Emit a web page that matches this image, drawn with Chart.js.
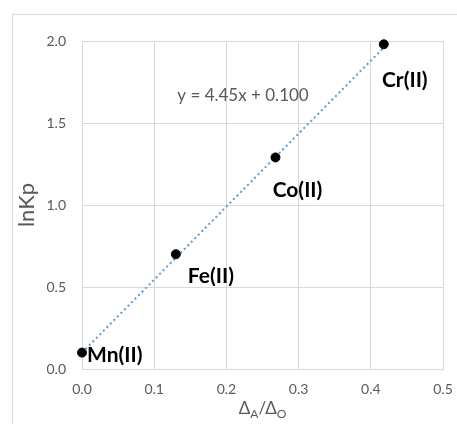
<!DOCTYPE html>
<html>
<head>
<meta charset="utf-8">
<script src="https://cdn.jsdelivr.net/npm/chart.js@4.4.1/dist/chart.umd.min.js"></script>
<style>
  html, body { margin: 0; padding: 0; background: #fff; }
  #wrap { width: 457px; height: 424px; }
</style>
</head>
<body>
<div id="wrap"><canvas id="scatter-chart"></canvas></div>
<script>
// data
var ionNames = ["Mn(II)", "Fe(II)", "Co(II)", "Cr(II)"];
var ratioX = [0.0, 0.13, 0.268, 0.418];
var lnKp = [0.10, 0.70, 1.29, 1.98];

// linear trendline as printed on the chart
var trendSlope = 4.45;
var trendIntercept = 0.100;
var trendRange = [0.0, 0.42];

var xTicks = [0, 0.1, 0.2, 0.3, 0.4, 0.5];
var yTicks = [0, 0.5, 1.0, 1.5, 2.0];

var scatterPoints = ratioX.map(function (x, i) { return { x: x, y: lnKp[i] }; });
var trendPoints = trendRange.map(function (x) { return { x: x, y: trendSlope * x + trendIntercept }; });

var FONT = "Lato, 'Open Sans', sans-serif";
var GRAY = "#595959";
var GRID = "#d9d9d9";

// label offsets in pixels from each point (centre of text)
var labelShift = [[5, 3, "left"], [35, 22, "center"], [22, 33, "center"], [21, 36, "center"]];

var annotations = {
  id: "annotations",
  afterDatasetsDraw: function (chart) {
    var ctx = chart.ctx;
    var xs = chart.scales.x, ys = chart.scales.y;
    ctx.save();
    // outer frame lines
    ctx.strokeStyle = GRID;
    ctx.lineWidth = 1;
    ctx.beginPath();
    ctx.moveTo(12.5, 424);
    ctx.lineTo(12.5, 14.5);
    ctx.lineTo(457, 14.5);
    ctx.stroke();

    // point labels
    ctx.fillStyle = "#000";
    ctx.font = "bold 21px " + FONT;
    ctx.textBaseline = "middle";
    ionNames.forEach(function (name, i) {
      var px = xs.getPixelForValue(ratioX[i]);
      var py = ys.getPixelForValue(lnKp[i]);
      ctx.textAlign = labelShift[i][2];
      ctx.fillText(name, px + labelShift[i][0], py + labelShift[i][1]);
    });

    // trendline equation
    ctx.fillStyle = GRAY;
    ctx.font = "17px " + FONT;
    ctx.textAlign = "center";
    ctx.fillText("y = " + trendSlope.toFixed(2) + "x + " + trendIntercept.toFixed(3),
      xs.getPixelForValue(0.223), ys.getPixelForValue(1.67));

    // y title
    ctx.save();
    ctx.translate(27, (ys.top + ys.bottom) / 2);
    ctx.rotate(-Math.PI / 2);
    ctx.font = "22px " + FONT;
    ctx.fillText("lnKp", 0, 0);
    ctx.restore();

    // x title with subscripts
    var parts = [["\u0394", 0], ["A", 1], ["/\u0394", 0], ["O", 1]];
    var big = "17px " + FONT, small = "12px " + FONT;
    var total = 0;
    parts.forEach(function (p) { ctx.font = p[1] ? small : big; total += ctx.measureText(p[0]).width; });
    var cx = (xs.left + xs.right) / 2 - total / 2;
    var by = 414;
    ctx.textAlign = "left";
    ctx.textBaseline = "alphabetic";
    parts.forEach(function (p) {
      ctx.font = p[1] ? small : big;
      ctx.fillText(p[0], cx, by + (p[1] ? 4 : 0));
      cx += ctx.measureText(p[0]).width;
    });
    ctx.restore();
  }
};

new Chart(document.getElementById("scatter-chart"), {
  type: "scatter",
  data: {
    datasets: [
      {
        label: "lnKp",
        data: scatterPoints,
        backgroundColor: "#000",
        borderColor: "#000",
        pointRadius: 4.5,
        pointHoverRadius: 4.5,
        clip: false,
        order: 1
      },
      {
        label: "Linear",
        type: "line",
        data: trendPoints,
        borderColor: "#5b9bd5",
        borderWidth: 2,
        borderDash: [2, 3],
        pointRadius: 0,
        fill: false,
        order: 2
      }
    ]
  },
  options: {
    responsive: true,
    maintainAspectRatio: false,
    animation: false,
    layout: { padding: { left: 0, right: 14, top: 41, bottom: 0 } },
    plugins: {
      legend: { display: false },
      tooltip: { enabled: false }
    },
    scales: {
      x: {
        type: "linear",
        min: 0,
        max: 0.5,
        afterFit: function (s) { s.height = 55; s.paddingRight = 0; },
        afterBuildTicks: function (s) { s.ticks = xTicks.map(function (v) { return { value: v }; }); },
        grid: { color: GRID, drawTicks: false },
        border: { color: GRID },
        ticks: {
          padding: 12,
          color: GRAY,
          font: { family: FONT, size: 14 },
          callback: function (v) { return v.toFixed(1); }
        }
      },
      y: {
        type: "linear",
        min: 0,
        max: 2.0,
        afterFit: function (s) { s.width = 82; },
        afterBuildTicks: function (s) { s.ticks = yTicks.map(function (v) { return { value: v }; }); },
        grid: { color: GRID, drawTicks: false },
        border: { color: GRID },
        ticks: {
          padding: 16,
          color: GRAY,
          font: { family: FONT, size: 14 },
          callback: function (v) { return v.toFixed(1); }
        }
      }
    }
  },
  plugins: [annotations]
});
</script>
</body>
</html>
